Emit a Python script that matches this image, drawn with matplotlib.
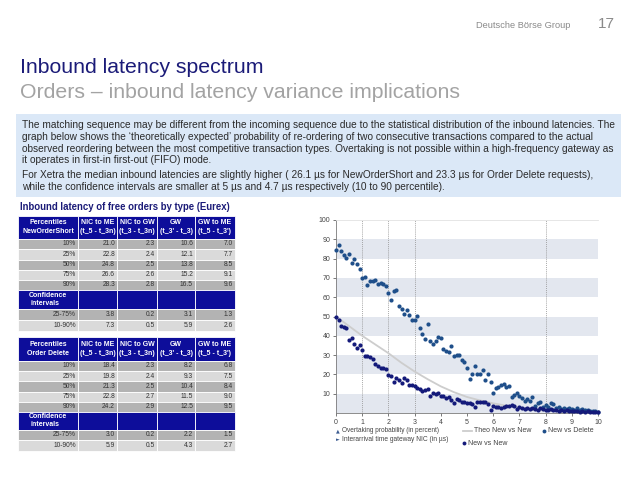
import matplotlib
matplotlib.use("Agg")
import matplotlib.pyplot as plt
from matplotlib.patches import Rectangle

# ---------------- data ----------------
interarrival_us = [0.0, 0.1, 0.2, 0.3, 0.4, 0.5, 0.6, 0.7, 0.8, 0.9,
                   1.0, 1.1, 1.2, 1.3, 1.4, 1.5, 1.6, 1.7, 1.8, 1.9,
                   2.0, 2.1, 2.2, 2.3, 2.4, 2.5, 2.6, 2.7, 2.8, 2.9,
                   3.0, 3.1, 3.2, 3.3, 3.4, 3.5, 3.6, 3.7, 3.8, 3.9,
                   4.0, 4.1, 4.2, 4.3, 4.4, 4.5, 4.6, 4.7, 4.8, 4.9,
                   5.0, 5.1, 5.2, 5.3, 5.4, 5.5, 5.6, 5.7, 5.8, 5.9,
                   6.0, 6.1, 6.2, 6.3, 6.4, 6.5, 6.6, 6.7, 6.8, 6.9,
                   7.0, 7.1, 7.2, 7.3, 7.4, 7.5, 7.6, 7.7, 7.8, 7.9,
                   8.0, 8.1, 8.2, 8.3, 8.4, 8.5, 8.6, 8.7, 8.8, 8.9,
                   9.0, 9.1, 9.2, 9.3, 9.4, 9.5, 9.6, 9.7, 9.8, 9.9, 10.0]

new_vs_delete = [84.2, 87.0, 84.0, 82.0, 80.3, 82.2, 77.7, 79.8, 77.4, 74.6,
                 70.1, 70.4, 66.3, 68.2, 68.2, 68.7, 67.0, 67.5, 66.6, 65.6,
                 62.2, 58.4, 63.0, 63.6, 55.5, 54.1, 51.5, 53.2, 50.8, 48.1,
                 48.1, 50.1, 43.9, 40.8, 38.4, 46.3, 37.2, 35.5, 37.5, 39.3,
                 39.1, 33.4, 32.0, 31.7, 34.6, 29.5, 29.8, 30.0, 27.7, 26.5,
                 23.4, 17.4, 20.0, 24.4, 20.1, 20.0, 22.2, 17.0, 20.1, 16.2,
                 10.2, 12.7, 13.6, 14.3, 14.8, 13.3, 14.1, 8.1, 9.3, 10.5,
                 9.0, 7.6, 6.4, 7.4, 6.4, 8.5, 3.7, 5.0, 5.9, 3.3,
                 4.2, 3.3, 5.0, 4.7, 2.5, 3.0, 2.2, 2.6, 2.0, 2.8,
                 2.3, 1.8, 2.4, 1.6, 2.0, 1.4, 1.8, 1.2, 1.0, 0.9, 0.7]

new_vs_new = [49.8, 48.1, 45.2, 44.6, 44.0, 37.7, 39.1, 36.0, 33.9, 35.2,
              32.6, 29.4, 29.4, 29.1, 28.1, 25.2, 24.3, 23.1, 23.1, 22.6,
              19.6, 19.3, 16.2, 17.9, 17.0, 15.7, 17.9, 17.0, 14.4, 14.4,
              13.9, 12.8, 12.2, 11.5, 11.9, 12.2, 8.8, 10.5, 9.8, 10.2,
              8.6, 8.8, 7.6, 8.4, 6.7, 5.3, 7.0, 6.7, 5.9, 5.6,
              5.3, 5.0, 4.6, 2.9, 5.9, 5.9, 5.5, 5.9, 4.6, 1.5,
              3.6, 3.3, 3.3, 2.4, 3.3, 3.6, 3.6, 4.0, 3.8, 1.9,
              2.9, 2.4, 1.9, 2.8, 1.9, 2.4, 1.9, 1.5, 2.4, 1.9,
              1.7, 1.4, 2.0, 1.3, 1.7, 1.1, 1.5, 1.0, 1.4, 0.9,
              1.2, 0.8, 1.1, 0.7, 1.0, 0.6, 0.9, 0.5, 0.7, 0.4, 0.5]

theo_x = [0.0, 0.5, 1.0, 1.5, 2.0, 2.5, 3.0, 3.5, 4.0, 4.5, 5.0,
          5.5, 6.0, 6.5, 7.0, 7.5, 8.0, 8.5, 9.0, 9.5, 10.0]
theo_new_vs_new = [50.0, 45.0, 40.0, 35.5, 31.0, 26.0, 21.5, 17.5, 13.8, 10.8, 8.3,
                   6.5, 5.0, 3.8, 2.8, 1.8, 1.2, 0.7, 0.4, 0.2, 0.1]

x_ticks = [0, 1, 2, 3, 4, 5, 6, 7, 8, 9, 10]
y_ticks = [10, 20, 30, 40, 50, 60, 70, 80, 90, 100]

col_headers = [("NIC to ME", "(t_5 - t_3n)"), ("NIC to GW", "(t_3 - t_3n)"),
               ("GW", "(t_3' - t_3)"), ("GW to ME", "(t_5 - t_3')")]
percentile_labels = ["10%", "25%", "50%", "75%", "90%"]
ci_labels = ["25-75%", "10-90%"]

nos_nic_me = [21.0, 22.8, 24.8, 26.6, 28.3]
nos_nic_gw = [2.3, 2.4, 2.5, 2.6, 2.8]
nos_gw = [10.6, 12.1, 13.8, 15.2, 16.5]
nos_gw_me = [7.0, 7.7, 8.5, 9.1, 9.6]
nos_ci_25_75 = [3.8, 0.2, 3.1, 1.3]
nos_ci_10_90 = [7.3, 0.5, 5.9, 2.6]

del_nic_me = [18.4, 19.8, 21.3, 22.8, 24.2]
del_nic_gw = [2.3, 2.4, 2.5, 2.7, 2.9]
del_gw = [8.2, 9.3, 10.4, 11.5, 12.5]
del_gw_me = [6.8, 7.5, 8.4, 9.0, 9.5]
del_ci_25_75 = [3.0, 0.2, 2.2, 1.5]
del_ci_10_90 = [5.9, 0.5, 4.3, 2.7]

para1 = ["The matching sequence may be different from the incoming sequence due to the statistical distribution of the inbound latencies. The",
         "graph below shows the \u2018theoretically expected\u2019 probability of re-ordering of two consecutive transactions compared to the actual",
         "observed reordering between the most competitive transaction types. Overtaking is not possible within a high-frequency gateway as",
         "it operates in first-in first-out (FIFO) mode."]
para2 = ["For Xetra the median inbound latencies are slightly higher ( 26.1 \u00b5s for NewOrderShort and 23.3 \u00b5s for Order Delete requests),",
         "while the confidence intervals are smaller at 5 \u00b5s and 4.7 \u00b5s respectively (10 to 90 percentile)."]

# ---------------- style ----------------
W, H = 638, 479
plt.rcParams['font.family'] = ['Liberation Sans', 'DejaVu Sans']

NAVY = "#1b1b78"
HDR = "#0d0d9a"
DARK_ROW = "#b3b3b3"
LIGHT_ROW = "#dadada"
TXT = "#333333"
ND_C = "#1f4f8a"
NN_C = "#141a7a"

fig = plt.figure(figsize=(W / 100, H / 100), dpi=100)
bg = fig.add_axes([0, 0, 1, 1])
bg.set_xlim(0, W)
bg.set_ylim(H, 0)
bg.axis('off')
renderer = fig.canvas.get_renderer()


def fit(x, y, s, width, size=7.0, **kw):
    t = bg.text(x, y, s, fontsize=size, **kw)
    bb = t.get_window_extent(renderer=renderer)
    t.set_fontsize(size * width / bb.width)
    return t


# header
fit(476, 25, "Deutsche B\u00f6rse Group", 94, color="#8a8a8a", va="center")
fit(598, 24, "17", 17, color="#8a8a8a", va="center")
fit(20, 67, "Inbound latency spectrum", 243, color=NAVY, va="center")
fit(20, 92, "Orders \u2013 inbound latency variance implications", 440, color="#a3a3a3", va="center")

# blue text box
bg.add_patch(Rectangle((16, 114), 605, 83, facecolor="#dbe8f7", edgecolor="none"))
t0 = fit(22, 125, para1[0], 590, color="#2a2a2a", va="center")
psize = t0.get_fontsize()
for i, line in enumerate(para1[1:]):
    bg.text(22, 137 + i * 11.7, line, fontsize=psize, color="#2a2a2a", va="center")
for i, line in enumerate(para2):
    bg.text(22, 175 + i * 11.7, line, fontsize=psize, color="#2a2a2a", va="center")

fit(20, 207, "Inbound latency of free orders by type (Eurex)", 213, color=NAVY,
    fontweight="bold", va="center")

# tables
col_edges = [18, 78, 117, 157, 195, 235]
HS = 5.0   # header text size
TS = 4.8   # body text size


def draw_table(edges, title2, cols, ci1, ci2):
    y0, y1 = edges[0], edges[1]
    for c in range(5):
        bg.add_patch(Rectangle((col_edges[c], y0), col_edges[c + 1] - col_edges[c], y1 - y0,
                               facecolor=HDR, edgecolor="white", lw=0.6))
    cy = (y0 + y1) / 2
    bg.text((col_edges[0] + col_edges[1]) / 2, cy - 4.6, "Percentiles", fontsize=HS, color="white",
            fontweight="bold", ha="center", va="center")
    bg.text((col_edges[0] + col_edges[1]) / 2, cy + 4.6, title2, fontsize=HS, color="white",
            fontweight="bold", ha="center", va="center")
    for c, (h1, h2) in enumerate(col_headers):
        xc = (col_edges[c + 1] + col_edges[c + 2]) / 2
        bg.text(xc, cy - 4.6, h1, fontsize=HS, color="white", fontweight="bold", ha="center", va="center")
        bg.text(xc, cy + 4.6, h2, fontsize=HS, color="white", fontweight="bold", ha="center", va="center")
    for r in range(5):
        ya, yb = edges[r + 1], edges[r + 2]
        fc = DARK_ROW if r % 2 == 0 else LIGHT_ROW
        for c in range(5):
            bg.add_patch(Rectangle((col_edges[c], ya), col_edges[c + 1] - col_edges[c], yb - ya,
                                   facecolor=fc, edgecolor="white", lw=0.6))
        ym = (ya + yb) / 2
        bg.text(col_edges[1] - 2, ym, percentile_labels[r], fontsize=TS, color=TXT, ha="right", va="center")
        for c in range(4):
            bg.text(col_edges[c + 2] - 2, ym, "%.1f" % cols[c][r], fontsize=TS, color=TXT,
                    ha="right", va="center")
    ya, yb = edges[6], edges[7]
    for c in range(5):
        bg.add_patch(Rectangle((col_edges[c], ya), col_edges[c + 1] - col_edges[c], yb - ya,
                               facecolor=HDR, edgecolor="white", lw=0.6))
    ym = (ya + yb) / 2
    bg.text(48, ym - 4.2, "Confidence", fontsize=HS, color="white", fontweight="bold", ha="center", va="center")
    bg.text(45, ym + 4.2, "intervals", fontsize=HS, color="white", fontweight="bold", ha="center", va="center")
    for k, vals in enumerate([ci1, ci2]):
        ya, yb = edges[7 + k], edges[8 + k]
        fc = DARK_ROW if k == 0 else LIGHT_ROW
        for c in range(5):
            bg.add_patch(Rectangle((col_edges[c], ya), col_edges[c + 1] - col_edges[c], yb - ya,
                                   facecolor=fc, edgecolor="white", lw=0.6))
        ym = (ya + yb) / 2
        bg.text(col_edges[1] - 2, ym, ci_labels[k], fontsize=TS, color=TXT, ha="right", va="center")
        for c in range(4):
            bg.text(col_edges[c + 2] - 2, ym, "%.1f" % vals[c], fontsize=TS, color=TXT,
                    ha="right", va="center")


draw_table([216, 238.5, 249, 259.5, 270, 280, 289.5, 309, 320, 330.5], "NewOrderShort",
           [nos_nic_me, nos_nic_gw, nos_gw, nos_gw_me], nos_ci_25_75, nos_ci_10_90)
draw_table([337, 360.5, 371, 381, 391.5, 401.5, 411.5, 430, 440, 450.5], "Order Delete",
           [del_nic_me, del_nic_gw, del_gw, del_gw_me], del_ci_25_75, del_ci_10_90)

# chart
ax = fig.add_axes([336 / W, 1 - 413 / H, 262 / W, 193 / H])
ax.set_xlim(0, 10)
ax.set_ylim(0, 100)
for lo in [0, 20, 40, 60, 80]:
    ax.axhspan(lo, lo + 10, color="#e3e7ef", lw=0, zorder=0)
for xv in [1, 2, 3, 8, 10]:
    ax.axvline(xv, color="#8f8f8f", lw=0.6, ls=(0, (1, 1.3)), zorder=1)
ax.plot(theo_x, theo_new_vs_new, color="#cdcdcd", lw=1.3, zorder=2)
ax.scatter(interarrival_us, new_vs_delete, s=9, color=ND_C, lw=0, zorder=3, clip_on=False)
ax.scatter(interarrival_us, new_vs_new, s=9, color=NN_C, lw=0, zorder=4, clip_on=False)
ax.set_xticks(x_ticks)
ax.set_yticks(y_ticks)
ax.tick_params(labelsize=5, colors="#444444", length=2, width=0.5, pad=2)
ax.spines["right"].set_visible(False)
ax.spines["top"].set_color("#e2e2e2")
ax.spines["top"].set_linewidth(0.6)
for s in ["left", "bottom"]:
    ax.spines[s].set_color("#7a7a7a")
    ax.spines[s].set_linewidth(0.6)

# legend
LS = 5.0
bg.text(338, 430.7, "\u25b2", fontsize=3.5, color="#3a5a90", ha="center", va="center", family="DejaVu Sans")
fit(342.5, 430.7, "Overtaking probability (in percent)", 100, size=LS, color="#444444", va="center")
bg.plot([463, 472], [430.7, 430.7], color="#cdcdcd", lw=1.3)
bg.text(474, 430.7, "Theo New vs New", fontsize=LS, color="#444444", va="center")
bg.plot([544.3], [430.7], "o", ms=2.8, color=ND_C, mew=0)
bg.text(548.5, 430.7, "New vs Delete", fontsize=LS, color="#444444", va="center")
bg.text(338, 439.3, "\u25ba", fontsize=3.5, color="#3a5a90", ha="center", va="center", family="DejaVu Sans")
fit(342.5, 439.3, "Interarrival time gateway NIC (in \u00b5s)", 107, size=LS, color="#444444", va="center")
bg.plot([464.3], [443.3], "o", ms=2.8, color=NN_C, mew=0)
bg.text(468.5, 443.3, "New vs New", fontsize=LS, color="#444444", va="center")

fig.savefig("out.png", dpi=100)
